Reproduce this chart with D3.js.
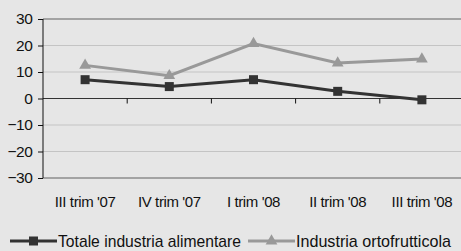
<!DOCTYPE html>
<html>
<head>
<meta charset="utf-8">
<script src="https://cdn.jsdelivr.net/npm/d3@7"></script>
<style>
  body { margin: 0; background: #e6e6e6; }
  svg text { font-family: "Liberation Sans", Arial, sans-serif; font-size: 15px; fill: #111; letter-spacing: -0.4px; }
</style>
</head>
<body>
<svg id="chart"></svg>
<script>
const categories = ["III trim '07", "IV trim '07", "I trim '08", "II trim '08", "III trim '08"];
const totale = [7.1, 4.5, 7.1, 2.7, -0.5];
const ortofrutticola = [12.5, 8.6, 20.7, 13.4, 14.9];
const yTicks = [30, 20, 10, 0, -10, -20, -30];
const seriesNames = ["Totale industria alimentare", "Industria ortofrutticola"];

const width = 461, height = 251;
const margin = { top: 19, right: -3, bottom: 73, left: 43 };
const chartWidth = width - margin.left - margin.right;
const chartHeight = height - margin.top - margin.bottom;

const svg = d3.select("#chart").attr("width", width).attr("height", height);
const g = svg.append("g").attr("transform", `translate(${margin.left}, ${margin.top})`);

const x = d3.scaleBand().domain(categories).range([0, chartWidth]);
const y = d3.scaleLinear().domain([-30, 30]).range([chartHeight, 0]);

// gridlines
g.selectAll(".grid").data(yTicks).enter().append("line")
    .attr("x1", 0).attr("x2", chartWidth + 5)
    .attr("y1", d => y(d)).attr("y2", d => y(d))
    .attr("stroke", d => (d === 30 || d === -30) ? "#8c8c8c" : d === 0 ? "#333" : "#c4c4c4")
    .attr("stroke-width", d => (d === 30 || d === -30) ? 1.5 : 1);

// y axis
const yAxis = g.append("g").call(d3.axisLeft(y).tickValues(yTicks).tickSize(5).tickPadding(5.5).tickFormat(d3.format("d")));
yAxis.select(".domain").attr("stroke", "#111").attr("d", `M0,${y(30)}V${y(-30)}`);
yAxis.selectAll(".tick line").attr("stroke", "#111");
yAxis.selectAll("text").attr("font-size", null).attr("font-family", null).attr("fill", null)
    .style("font-size", "15.5px");

// category ticks on zero line
g.selectAll(".xtick").data(categories.slice(1)).enter().append("line")
    .attr("x1", d => x(d)).attr("x2", d => x(d))
    .attr("y1", y(0)).attr("y2", y(0) + 5)
    .attr("stroke", "#111");

// x labels
g.selectAll(".xlabel").data(categories).enter().append("text")
    .attr("x", d => x(d) + x.bandwidth() / 2)
    .attr("y", chartHeight + 28.5)
    .attr("text-anchor", "middle")
    .text(d => d);

const line = d3.line()
    .x((d, i) => x(categories[i]) + x.bandwidth() / 2)
    .y(d => y(d));

const series = [
    { name: seriesNames[0], values: totale, color: "#333333", marker: "square" },
    { name: seriesNames[1], values: ortofrutticola, color: "#999999", marker: "triangle" }
];

function drawMarker(sel, s) {
    if (s.marker === "square") {
        sel.append("rect").attr("x", -4.5).attr("y", -4.5).attr("width", 9).attr("height", 9).attr("fill", s.color);
    } else {
        sel.append("path").attr("d", d3.symbol().type(d3.symbolTriangle).size(60)()).attr("fill", s.color);
    }
}

series.slice().reverse().forEach(s => {
    g.append("path").datum(s.values)
        .attr("d", line).attr("fill", "none")
        .attr("stroke", s.color).attr("stroke-width", 3);
    s.values.forEach((v, i) => {
        const m = g.append("g").attr("transform", `translate(${x(categories[i]) + x.bandwidth() / 2}, ${y(v)})`);
        drawMarker(m, s);
    });
});

// legend
const legendY = 241;
const legendItems = [
    { s: series[0], x0: 10, textX: 58, textLen: 183 },
    { s: series[1], x0: 248, textX: 296, textLen: 155 }
];
legendItems.forEach(it => {
    const lg = svg.append("g");
    lg.append("line").attr("x1", it.x0).attr("x2", it.x0 + 47)
        .attr("y1", legendY).attr("y2", legendY)
        .attr("stroke", it.s.color).attr("stroke-width", 3);
    const m = lg.append("g").attr("transform", `translate(${it.x0 + 23.5}, ${legendY})`);
    drawMarker(m, it.s);
    lg.append("text").attr("x", it.textX).attr("y", 247)
        .style("font-size", "17px").style("letter-spacing", "0px")
        .attr("textLength", it.textLen).attr("lengthAdjust", "spacingAndGlyphs")
        .text(it.s.name);
});
</script>
</body>
</html>
